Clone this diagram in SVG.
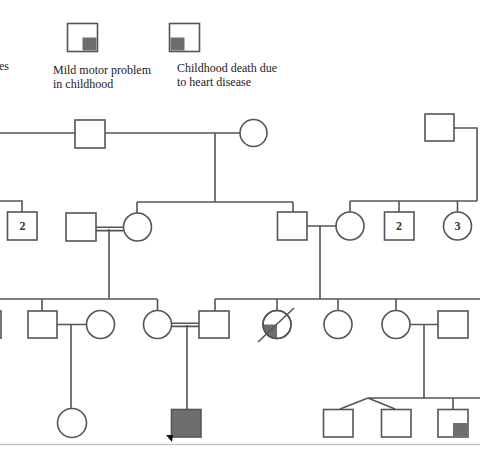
<svg xmlns="http://www.w3.org/2000/svg" width="480" height="458" viewBox="0 0 480 458">
<style>
.s{fill:#fff;stroke:#555;stroke-width:1.6}
.l{fill:none;stroke:#555;stroke-width:1.6}
.d{fill:#6e6e6e;stroke:none}
.t{font-family:"Liberation Serif",serif;font-size:12px;fill:#222}
.n{font-family:"Liberation Serif",serif;font-size:12px;font-weight:bold;fill:#333;text-anchor:middle}
</style>
<rect width="480" height="458" fill="#fff"/>
<g id="legend">
<text class="t" x="-1" y="70">es</text>
<rect class="s" x="67.5" y="23.5" width="30" height="28"/>
<rect class="d" x="82.5" y="37.5" width="14" height="13"/>
<rect class="s" x="169.5" y="23.5" width="30" height="28"/>
<rect class="d" x="170.5" y="37.5" width="14" height="13"/>
<text class="t" x="53" y="74">Mild motor problem</text>
<text class="t" x="53" y="88">in childhood</text>
<text class="t" x="177" y="72">Childhood death due</text>
<text class="t" x="177" y="86">to heart disease</text>
</g>
<g id="connectors">
<path class="l" d="M0 133H75M105 133H240M215 133V202M137 202H293M137 202V213M293 202V212"/>
<path class="l" d="M454 128H477V201M350 201H477M350 201V212M399 201V212M457.5 201V212"/>
<path class="l" d="M0 201H22V212"/>
<path class="l" d="M96 227.2H123.5M96 230.6H123.5M109 229V299M0 299H157.5M42 299V311M157.5 299V311"/>
<path class="l" d="M307 226H336M320 226V299M215 299H480M215 299V311M277 299V311M338 299V311M396 299V311"/>
<path class="l" d="M57 324.5H86M71 324.5V409"/>
<path class="l" d="M171.5 323.2H199M171.5 326.4H199M187 325V409"/>
<path class="l" d="M410 324.5H438M424 324.5V398M368 398H480M368 398L340 409M368 398L395 409M453 398V409"/>
</g>
<g id="g1-m"><rect class="s" x="75" y="120" width="30" height="28"/></g>
<g id="g1-f"><circle class="s" cx="253.5" cy="133" r="13.5"/></g>
<g id="g1-m2"><rect class="s" x="425" y="114" width="29" height="27"/></g>
<g id="g2-sib2"><rect class="s" x="7.5" y="212" width="29.5" height="28"/><text class="n" x="22.5" y="230">2</text></g>
<g id="g2-m1"><rect class="s" x="66" y="213" width="30" height="28"/></g>
<g id="g2-f1"><circle class="s" cx="137.5" cy="227" r="14"/></g>
<g id="g2-m2"><rect class="s" x="277.5" y="212" width="29.5" height="28"/></g>
<g id="g2-f2"><circle class="s" cx="350" cy="226" r="14"/></g>
<g id="g2-sib3"><rect class="s" x="384.5" y="212" width="29.5" height="28"/><text class="n" x="399" y="230">2</text></g>
<g id="g2-sib4"><circle class="s" cx="457.5" cy="226" r="14"/><text class="n" x="457.5" y="230">3</text></g>
<g id="g3-edge"><rect class="s" x="-28" y="311" width="29" height="27"/></g>
<g id="g3-m1"><rect class="s" x="28" y="311" width="29" height="27"/></g>
<g id="g3-f1"><circle class="s" cx="100.5" cy="324.5" r="14"/></g>
<g id="g3-f2"><circle class="s" cx="157.5" cy="324.5" r="14"/></g>
<g id="g3-m2"><rect class="s" x="199" y="311" width="30" height="27"/></g>
<g id="g3-f3"><circle class="s" cx="277" cy="324.5" r="14"/><path class="d" d="M263 324.5H277V338.5A14 14 0 0 1 263 324.5Z"/><circle cx="277" cy="324.5" r="14" fill="none" stroke="#555" stroke-width="1.6"/><path class="l" d="M258 342L294 308"/></g>
<g id="g3-f4"><circle class="s" cx="338" cy="324.5" r="14"/></g>
<g id="g3-f5"><circle class="s" cx="396" cy="324.5" r="14"/></g>
<g id="g3-m3"><rect class="s" x="438" y="311" width="30" height="27"/></g>
<g id="g4-f1"><circle class="s" cx="72" cy="423" r="14.5"/></g>
<g id="g4-proband"><rect x="171.5" y="409.5" width="29.5" height="27.5" fill="#6e6e6e" stroke="#555" stroke-width="1.6"/><polygon points="166,435 173,435 172,442" fill="#111"/></g>
<g id="g4-m1"><rect class="s" x="323.5" y="409.5" width="29.5" height="27.5"/></g>
<g id="g4-m2"><rect class="s" x="381.5" y="409.5" width="29.5" height="27.5"/></g>
<g id="g4-m3"><rect class="s" x="438" y="409.5" width="30" height="27.5"/><rect class="d" x="453" y="423" width="14" height="13"/></g>
<line x1="0" y1="444.5" x2="480" y2="444.5" stroke="#c4c4c4" stroke-width="1.5"/>
</svg>
